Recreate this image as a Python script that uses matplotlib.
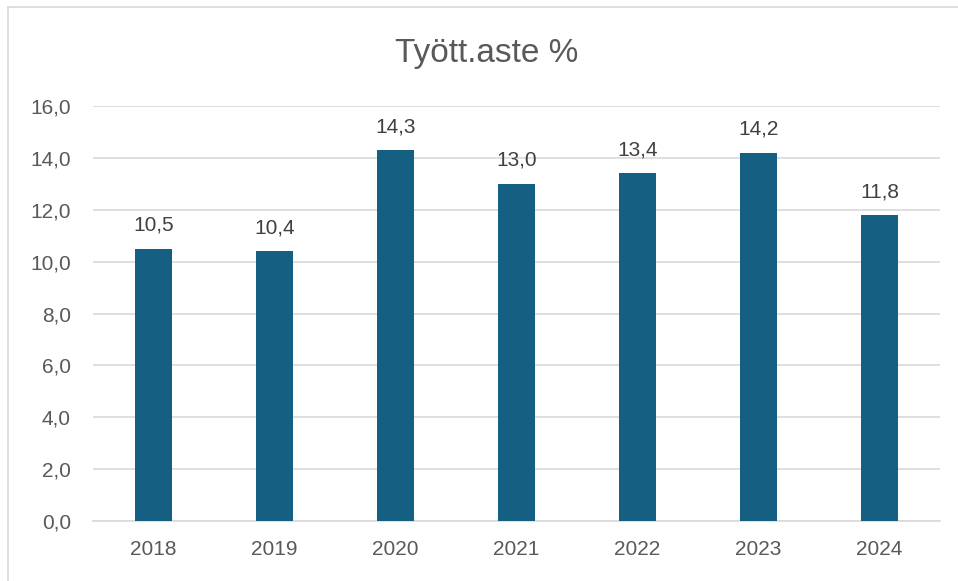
import matplotlib
matplotlib.use("Agg")
import matplotlib.pyplot as plt
from matplotlib.lines import Line2D

# data
years = ["2018", "2019", "2020", "2021", "2022", "2023", "2024"]
rate = [10.5, 10.4, 14.3, 13.0, 13.4, 14.2, 11.8]
yticks = [0, 2, 4, 6, 8, 10, 12, 14, 16]

bar_color = "#156082"
text_color = "#595959"
grid_color = "#d9d9d9"

plt.rcParams["font.family"] = ["Liberation Sans", "DejaVu Sans"]

W, H = 958, 581
fig = plt.figure(figsize=(W / 100, H / 100), dpi=100)
ax = fig.add_axes([93 / W, (H - 521) / H, (940 - 93) / W, (521 - 106) / H])

x = range(len(years))
ax.bar(x, rate, width=0.31, color=bar_color, zorder=3)
for i, v in zip(x, rate):
    ax.text(i, v + 0.69, f"{v:.1f}".replace(".", ","), ha="center", va="baseline",
            fontsize=15, color="#404040")

ax.set_xlim(-0.5, len(years) - 0.5)
ax.set_ylim(0, 16)
ax.set_yticks(yticks)
ax.set_yticklabels([f"{t:.1f}".replace(".", ",") for t in yticks])
ax.set_xticks(list(x))
ax.set_xticklabels(years)
ax.tick_params(axis="both", length=0, labelsize=15, colors=text_color)
ax.tick_params(axis="y", pad=16)
ax.tick_params(axis="x", pad=14)
ax.grid(axis="y", color=grid_color, linewidth=1.2, zorder=0)
for s in ["top", "right", "left"]:
    ax.spines[s].set_visible(False)
ax.spines["bottom"].set_color(grid_color)
ax.spines["bottom"].set_linewidth(1.2)

fig.text(487 / W, 1 - 62 / H, "Tyött.aste %", ha="center", va="baseline",
         fontsize=24, color=text_color)

# chart frame
fig.add_artist(Line2D([8 / W, 1], [1 - 7 / H, 1 - 7 / H], color=grid_color, lw=1.2))
fig.add_artist(Line2D([8 / W, 8 / W], [0, 1 - 7 / H], color=grid_color, lw=1.2))

fig.savefig("out.png", dpi=100)
